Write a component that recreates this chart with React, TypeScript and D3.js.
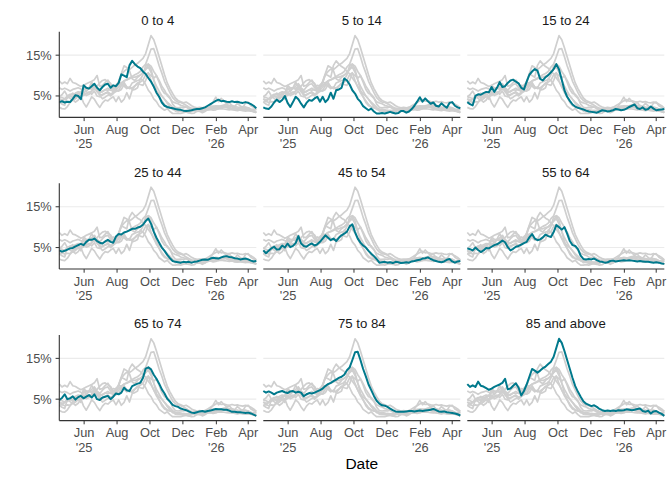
import React from "react";
import * as d3 from "d3";

// age groups, one panel each
const ageGroups = [
  "0 to 4", "5 to 14", "15 to 24",
  "25 to 44", "45 to 54", "55 to 64",
  "65 to 74", "75 to 84", "85 and above",
];

// one reading every 5 days, starting 16 Apr 2025
const startDate = new Date(2025, 3, 16);
const stepDays = 5;

// test positivity (%) by age group
const age0to4 = [
  3.5, 3.7, 3.4, 3.6, 3.5, 4.3, 5.2, 5.0, 4.2, 7.6, 7.0, 6.8, 7.4, 8.0, 7.0, 6.4, 7.2, 7.8, 8.0, 7.0,
  7.6, 7.4, 8.2, 10.3, 10.0, 9.6, 12.5, 13.6, 12.8, 12.2, 11.8, 11.0, 10.4, 9.4, 8.5, 7.3, 5.8, 4.8, 3.4, 2.6,
  2.3, 2.1, 2.0, 1.8, 1.7, 1.6, 1.4, 1.3, 1.4, 1.5, 1.7, 1.8, 1.8, 2.0, 2.2, 2.6, 3.0, 3.4, 3.8, 4.1,
  3.7, 3.8, 3.6, 3.5, 3.7, 3.5, 3.6, 3.4, 3.3, 3.5, 3.3, 3.0, 2.6, 2.0,
];
const age5to14 = [
  2.2, 1.9, 1.8, 2.4, 3.4, 4.1, 3.5, 4.0, 5.0, 3.3, 2.3, 3.5, 4.8, 4.2, 3.1, 2.2, 3.3, 4.0, 3.8, 4.4,
  4.8, 3.6, 4.8, 3.5, 4.2, 5.8, 4.3, 6.4, 6.6, 7.0, 9.3, 8.8, 7.8, 6.4, 5.6, 4.3, 3.6, 2.5, 2.0, 1.5,
  1.9, 1.2, 0.7, 0.7, 0.8, 0.7, 0.9, 1.1, 0.9, 0.7, 0.8, 1.3, 1.3, 0.9, 1.2, 1.8, 2.6, 3.6, 4.7, 3.6,
  4.4, 3.7, 3.1, 3.4, 2.6, 2.4, 3.2, 2.6, 2.1, 3.3, 3.5, 2.6, 2.2, 2.0,
];
const age15to24 = [
  3.5, 3.0, 2.7, 5.0, 5.4, 5.3, 5.7, 6.0, 5.9, 7.2, 6.0, 7.0, 8.4, 7.2, 7.4, 8.2, 8.8, 9.0, 8.5, 8.1,
  7.0, 6.6, 8.5, 10.2, 11.0, 11.6, 11.2, 9.2, 8.8, 9.6, 10.1, 10.8, 11.6, 12.8, 11.5, 9.0, 6.4, 4.8, 3.8, 2.9,
  2.4, 2.1, 1.9, 1.7, 1.4, 1.2, 1.1, 1.0, 0.9, 1.2, 1.5, 1.4, 1.2, 1.3, 1.5, 1.8, 1.7, 1.5, 1.6, 1.9,
  2.3, 2.6, 2.9, 2.0, 1.8, 2.2, 1.6, 1.8, 2.4, 1.9, 1.5, 1.6, 1.7, 1.8,
];
const age25to44 = [
  4.3, 4.0, 4.2, 4.5, 4.8, 4.9, 5.3, 5.6, 5.9, 5.6, 6.4, 6.9, 6.9, 7.2, 6.6, 6.2, 6.0, 6.5, 6.9, 6.4,
  6.2, 7.7, 8.3, 8.2, 8.7, 8.9, 9.2, 9.6, 9.6, 9.9, 10.1, 10.6, 11.5, 12.1, 10.8, 8.9, 7.4, 6.2, 5.0, 4.2,
  3.2, 2.4, 1.7, 1.5, 1.4, 1.3, 1.5, 1.4, 1.5, 1.3, 1.5, 1.6, 1.8, 2.0, 2.1, 2.0, 2.3, 2.5, 2.4, 2.3,
  2.6, 2.8, 2.9, 2.7, 2.6, 2.4, 2.3, 2.1, 2.2, 2.3, 2.1, 1.8, 1.6, 1.7,
];
const age45to54 = [
  4.3, 3.6, 4.2, 4.8, 5.2, 4.5, 4.6, 5.5, 5.0, 6.0, 5.1, 5.4, 6.1, 7.8, 6.0, 5.4, 5.2, 5.7, 6.0, 5.5,
  5.8, 6.4, 7.2, 8.0, 7.4, 6.8, 7.2, 6.6, 7.4, 8.0, 8.4, 8.9, 10.2, 10.7, 8.8, 7.2, 6.2, 5.5, 5.0, 4.2,
  3.5, 2.9, 2.2, 1.3, 1.4, 1.5, 1.3, 1.4, 1.2, 1.5, 1.4, 1.2, 1.3, 1.4, 1.3, 1.6, 1.7, 1.9, 2.0, 2.3,
  2.4, 2.6, 2.2, 1.9, 1.7, 1.5, 1.4, 1.6, 2.0, 2.2, 1.6, 1.3, 1.6, 1.7,
];
const age55to64 = [
  4.8, 4.6, 4.3, 5.0, 4.4, 3.9, 4.3, 4.9, 4.8, 5.2, 5.6, 5.8, 6.2, 6.7, 6.3, 5.1, 4.3, 4.7, 5.2, 5.4,
  5.7, 6.1, 6.4, 7.5, 8.3, 7.2, 6.8, 7.0, 7.5, 8.2, 7.8, 7.6, 8.8, 10.5, 10.0, 9.4, 10.0, 8.4, 6.6, 5.6,
  5.4, 4.6, 3.0, 2.2, 2.1, 2.2, 2.1, 2.3, 1.9, 1.6, 1.5, 1.3, 1.4, 1.7, 1.8, 1.6, 1.7, 1.8, 1.9, 1.8,
  1.9, 1.8, 1.7, 1.6, 1.7, 1.6, 1.5, 1.5, 1.4, 1.3, 1.4, 1.3, 1.1, 1.0,
];
const age65to74 = [
  4.8, 5.3, 6.2, 5.0, 5.2, 5.7, 4.9, 5.5, 5.8, 5.2, 5.6, 6.0, 5.4, 6.2, 5.0, 4.8, 5.4, 5.6, 5.8, 5.0,
  5.6, 6.4, 6.2, 6.6, 7.8, 7.2, 7.0, 8.2, 8.5, 8.8, 9.0, 10.2, 12.5, 12.8, 12.3, 11.0, 10.0, 8.8, 7.4, 6.4,
  5.1, 4.4, 3.6, 3.3, 3.1, 2.7, 2.5, 2.3, 2.0, 1.7, 1.6, 1.8, 2.0, 2.1, 1.9, 2.1, 2.2, 2.4, 2.6, 2.5,
  2.5, 2.4, 2.4, 2.2, 1.9, 1.9, 1.8, 1.8, 1.7, 1.6, 1.7, 1.5, 1.2, 0.9,
];
const age75to84 = [
  7.0, 6.6, 6.9, 6.6, 6.2, 6.6, 6.8, 7.0, 6.7, 6.5, 6.9, 7.0, 6.6, 6.8, 6.6, 5.7, 6.2, 6.5, 6.4, 6.6,
  6.9, 7.2, 7.6, 8.2, 8.7, 9.0, 9.4, 9.8, 10.2, 10.5, 11.0, 12.1, 12.8, 14.6, 16.5, 16.6, 14.6, 12.4, 10.6, 8.6,
  7.2, 5.8, 4.6, 3.9, 3.5, 3.4, 3.1, 2.7, 2.3, 2.0, 1.9, 1.9, 1.9, 2.0, 2.1, 2.1, 2.0, 2.1, 2.2, 2.1,
  2.2, 2.3, 2.4, 2.6, 2.3, 2.0, 1.9, 2.0, 1.8, 1.7, 1.6, 1.5, 1.3, 1.0,
];
const age85plus = [
  8.7, 8.0, 8.4, 8.0, 9.3, 8.3, 8.1, 7.7, 7.3, 7.6, 8.0, 8.3, 8.6, 9.0, 10.0, 7.4, 7.6, 8.3, 8.9, 7.8,
  5.9, 7.0, 8.6, 10.5, 12.4, 12.0, 11.5, 12.0, 12.6, 13.0, 13.6, 14.2, 15.4, 17.6, 19.8, 18.8, 16.8, 14.6, 12.4, 10.2,
  8.2, 6.8, 5.6, 4.5, 3.9, 3.6, 3.3, 3.5, 3.1, 2.6, 2.3, 2.1, 2.2, 2.1, 2.2, 2.1, 2.3, 2.2, 2.3, 2.5,
  2.4, 2.3, 2.4, 2.6, 2.7, 2.1, 1.9, 2.2, 1.5, 2.0, 2.1, 1.7, 1.4, 0.9,
];

const seriesValues = [
  age0to4, age5to14, age15to24,
  age25to44, age45to54, age55to64,
  age65to74, age75to84, age85plus,
];

const xTickDates = [
  new Date(2025, 5, 1), new Date(2025, 7, 1), new Date(2025, 9, 1),
  new Date(2025, 11, 1), new Date(2026, 1, 1), new Date(2026, 3, 1),
];
const yTicks = [5, 15];

const dates = age0to4.map((_, i) => d3.timeDay.offset(startDate, i * stepDays));

const W = 672;
const H = 480;
const left = 59.3;
const top = 31.7;
const panelW = 197;
const panelH = 85.7;
const gapX = 7;
const gapY = 65.9;
const font = "'Liberation Sans', Arial, Helvetica, sans-serif";
const teal = "#00798c";

export default function App() {
  const x = d3
    .scaleTime()
    .domain(d3.extent(dates) as [Date, Date])
    .range([0, panelW]);

  const all = seriesValues.flat();
  const lo = d3.min(all) as number;
  const hi = d3.max(all) as number;
  const pad = (hi - lo) * 0.05;
  const y = d3.scaleLinear().domain([lo - pad, hi + pad]).range([panelH, 0]);

  const line = d3
    .line<number>()
    .x((_, i) => x(dates[i]))
    .y((d) => y(d));

  const fmtMonth = d3.timeFormat("%b");
  const fmtYear = d3.timeFormat("'%y");

  return (
    <svg
      width={W}
      height={H}
      style={{ position: "absolute", left: 0, top: 0, background: "#fff" }}
      fontFamily={font}
    >
      {ageGroups.map((name, k) => {
        const col = k % 3;
        const row = Math.floor(k / 3);
        const px = left + col * (panelW + gapX);
        const py = top + row * (panelH + gapY);
        return (
          <g key={name} transform={`translate(${px},${py})`}>
            {yTicks.map((t) => (
              <line key={t} x1={0} x2={panelW} y1={y(t)} y2={y(t)} stroke="#ebebeb" strokeWidth={1.1} />
            ))}
            {seriesValues.map((vals, j) =>
              j === k ? null : (
                <path key={j} d={line(vals) || ""} fill="none" stroke="#cfcfcf" strokeWidth={1.7} strokeLinejoin="round" />
              )
            )}
            <path d={line(seriesValues[k]) || ""} fill="none" stroke={teal} strokeWidth={2} strokeLinejoin="round" />
            <text x={panelW / 2} y={-6.7} textAnchor="middle" fontSize={13.2} fill="#1a1a1a">
              {name}
            </text>
            <line x1={0} x2={panelW} y1={panelH} y2={panelH} stroke="#333" strokeWidth={1.1} />
            {xTickDates.map((d, i) => {
              const tx = x(d);
              const showYear = i === 0 || d.getFullYear() !== xTickDates[i - 1].getFullYear();
              return (
                <g key={i} transform={`translate(${tx},${panelH})`}>
                  <line y1={0} y2={3.7} stroke="#333" strokeWidth={1} />
                  <text y={16.5} textAnchor="middle" fontSize={12.8} fill="#4d4d4d">
                    {fmtMonth(d)}
                  </text>
                  {showYear && (
                    <text y={31} textAnchor="middle" fontSize={12.8} fill="#4d4d4d">
                      {fmtYear(d)}
                    </text>
                  )}
                </g>
              );
            })}
            {col === 0 && (
              <g>
                <line x1={0} x2={0} y1={0} y2={panelH} stroke="#333" strokeWidth={1.1} />
                {yTicks.map((t) => (
                  <g key={t} transform={`translate(0,${y(t)})`}>
                    <line x1={-3.7} x2={0} stroke="#333" strokeWidth={1} />
                    <text x={-7.6} dy="0.35em" textAnchor="end" fontSize={12.8} fill="#4d4d4d">
                      {t}%
                    </text>
                  </g>
                ))}
              </g>
            )}
          </g>
        );
      })}
      <text x={left + (3 * panelW + 2 * gapX) / 2} y={469} textAnchor="middle" fontSize={15.5} fill="#000">
        Date
      </text>
    </svg>
  );
}
